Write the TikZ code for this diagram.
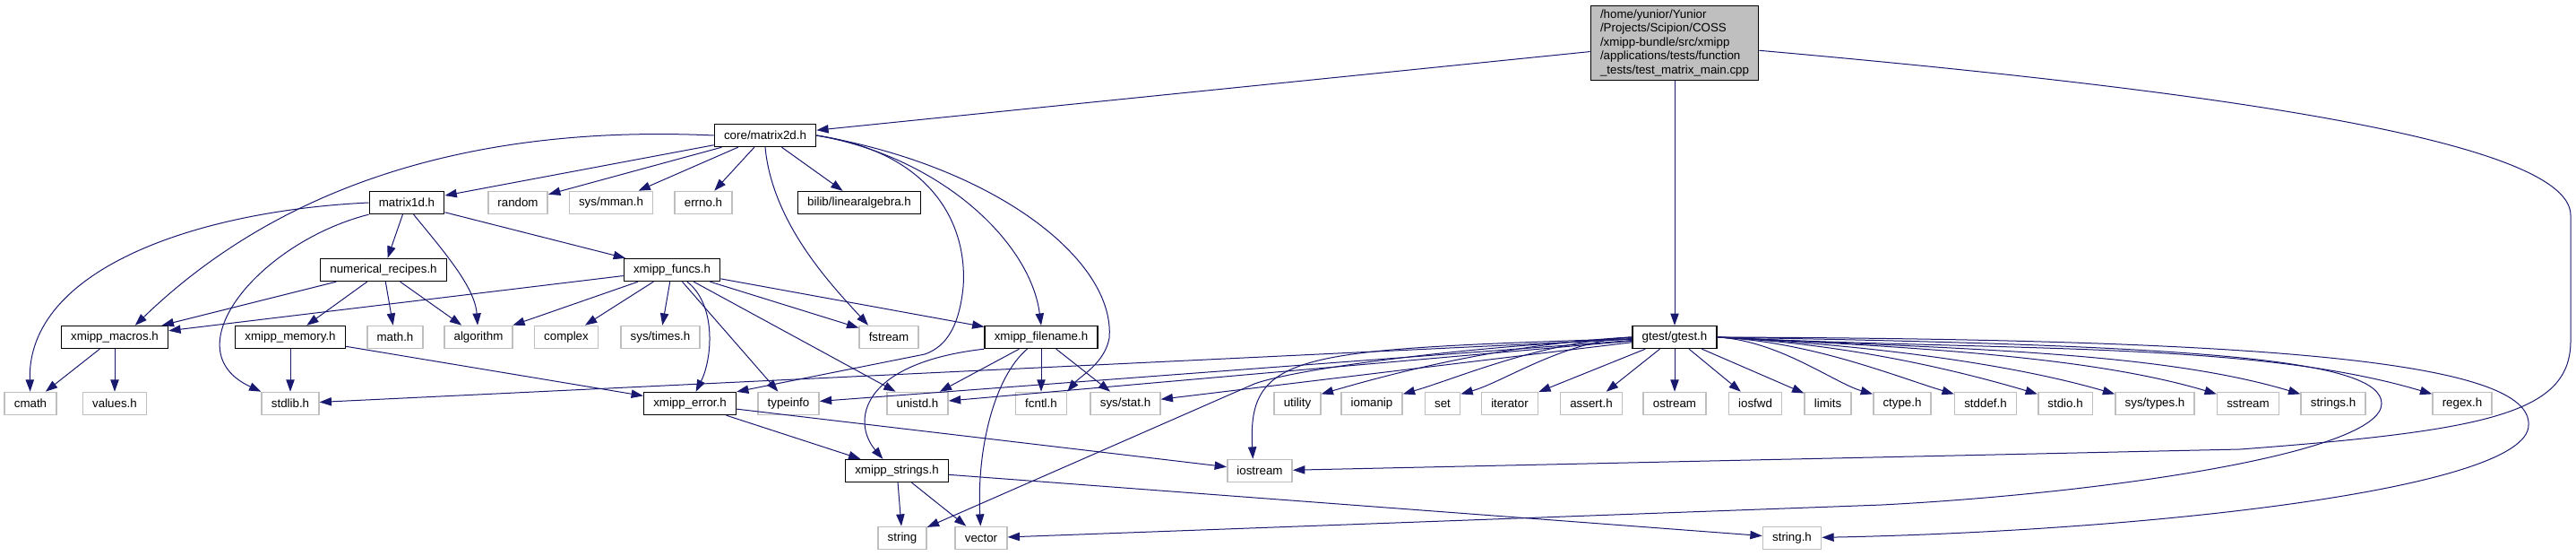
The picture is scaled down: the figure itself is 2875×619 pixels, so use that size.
\documentclass[tikz,border=0pt]{standalone}
\usepackage{fontspec}
\setmainfont{Liberation Sans}
\usetikzlibrary{arrows.meta}
\definecolor{cEdge}{RGB}{25,25,112}
\definecolor{cSys}{RGB}{191,191,191}
\definecolor{cRoot}{RGB}{191,191,191}

\begin{document}
\begin{tikzpicture}[
  x=0.75pt, y={(0pt,-0.75pt)},
  font=\fontsize{10}{11.6}\selectfont,
  box/.style  = {rectangle, fill=white, minimum height=18.75pt,
                 inner xsep=8pt, inner ysep=0pt},
  hdr/.style  = {box, draw=black, line width=1pt},
  ext/.style  = {box, draw=cSys, line width=1.2pt},
  root/.style = {box, draw=black, line width=1pt, fill=cRoot,
                 align=left, inner ysep=3.5pt},
  dep/.style  = {-{Triangle[length=10pt, width=7pt]}, draw=cEdge,
                 line width=0.75pt}
]
\useasboundingbox (0,0) rectangle (2875,619);

% ------------------------------------------------------------- i file --
\node[root] (main) at (1869,48) {/home/yunior/Yunior\\/Projects/Scipion/COSS\\/xmipp-bundle/src/xmipp\\/applications/tests/function\\\_tests/test\_matrix\_main.cpp};
\node[hdr] (mat2d) at (854,151) {core/matrix2d.h};

\node[hdr] (mat1d)  at (454,226) {matrix1d.h};
\node[ext] (random) at (578,226) {random};
\node[ext] (mman)   at (682,226) {sys/mman.h};
\node[ext] (errno)  at (785,226) {errno.h};
\node[hdr] (linalg) at (959,226) {bilib/linearalgebra.h};

\node[hdr] (numrec) at (428,301) {numerical\_recipes.h};
\node[hdr] (funcs)  at (750,301) {xmipp\_funcs.h};

\node[hdr] (macros)  at (128,376)  {xmipp\_macros.h};
\node[hdr] (memory)  at (324,376)  {xmipp\_memory.h};
\node[ext] (mathh)   at (441,376)  {math.h};
\node[ext] (algo)    at (534,376)  {algorithm};
\node[ext] (complex) at (632,376)  {complex};
\node[ext] (times)   at (737,376)  {sys/times.h};
\node[ext] (fstream) at (992,376)  {fstream};
\node[hdr] (fname)   at (1162,376) {xmipp\_filename.h};
\node[hdr] (gtest)   at (1869,376) {gtest/gtest.h};

\node[ext] (cmath)    at (34,450)   {cmath};
\node[ext] (values)   at (128,450)  {values.h};
\node[ext] (stdlib)   at (324,450)  {stdlib.h};
\node[hdr] (error)    at (770,450)  {xmipp\_error.h};
\node[ext] (typeinfo) at (880,450)  {typeinfo};
\node[ext] (unistd)   at (1024,450) {unistd.h};
\node[ext] (fcntl)    at (1162,450) {fcntl.h};
\node[ext] (sysstat)  at (1256,450) {sys/stat.h};
\node[ext] (utility)  at (1448,450) {utility};
\node[ext] (iomanip)  at (1531,450) {iomanip};
\node[ext] (set)      at (1610,450) {set};
\node[ext] (iterator) at (1685,450) {iterator};
\node[ext] (assert)   at (1776,450) {assert.h};
\node[ext] (ostream)  at (1869,450) {ostream};
\node[ext] (iosfwd)   at (1959,450) {iosfwd};
\node[ext] (limits)   at (2040,450) {limits};
\node[ext] (ctype)    at (2123,450) {ctype.h};
\node[ext] (stddef)   at (2216,450) {stddef.h};
\node[ext] (stdio)    at (2305,450) {stdio.h};
\node[ext] (systypes) at (2405,450) {sys/types.h};
\node[ext] (sstream)  at (2509,450) {sstream};
\node[ext] (strings)  at (2604,450) {strings.h};
\node[ext] (regex)    at (2748,450) {regex.h};

\node[hdr] (xstr)     at (1001,525) {xmipp\_strings.h};
\node[ext] (iostream) at (1406,525) {iostream};

\node[ext] (string)  at (1007,600) {string};
\node[ext] (vector)  at (1095,600) {vector};
\node[ext] (stringh) at (2000,600) {string.h};

% ------------------------------------------------ test_matrix_main.cpp --
\draw[dep] (main) -- (mat2d);
\draw[dep] (main) -- (gtest);
\coordinate (r1) at (2869,240);
\coordinate (r2) at (2869,380);
\coordinate (r3) at (2500,501);
\draw[dep] (main.-5) .. controls (2400,95) and (2869,150) .. (r1) -- (r2)
  .. controls (2869,460) and (2780,480) .. (r3) -- (iostream);

% ----------------------------------------------------- core/matrix2d.h --
\draw[dep] (mat2d) -- (mat1d);
\draw[dep] (mat2d) -- (random);
\draw[dep] (mat2d) -- (mman);
\draw[dep] (mat2d) -- (errno);
\draw[dep] (mat2d) -- (linalg);
\draw[dep] (mat2d.west) .. controls (560,140) and (330,190) .. (macros.30);
\draw[dep] (mat2d.south) .. controls (862,250) and (930,320) .. (fstream.150);
\coordinate (m1) at (1075,320);
\coordinate (m2) at (1032,395);
\draw[dep] (mat2d.east) .. controls (1040,170) and (1080,250) .. (m1)
  .. controls (1070,370) and (1052,388) .. (m2) -- (error.north east);
\draw[dep] (mat2d.east) .. controls (1050,175) and (1150,270) .. (fname.north);
\coordinate (m3) at (1238,377);
\draw[dep] (mat2d.east) .. controls (1110,185) and (1245,290) .. (m3)
  .. controls (1233,405) and (1205,420) .. (fcntl.north east);

% ---------------------------------------------------------- matrix1d.h --
\draw[dep] (mat1d.west) .. controls (220,235) and (30,300) .. (cmath);
\draw[dep] (mat1d.south west) .. controls (290,270) and (190,390) .. (stdlib.north west);
\draw[dep] (mat1d) -- (numrec);
\draw[dep] (mat1d.-60) .. controls (495,280) and (530,320) .. (algo);
\draw[dep] (mat1d) -- (funcs);

% ------------------------------------------------- numerical_recipes.h --
\draw[dep] (numrec) -- (macros);
\draw[dep] (numrec) -- (memory);
\draw[dep] (numrec) -- (mathh);
\draw[dep] (numrec) -- (algo);

% ------------------------------------------------------- xmipp_funcs.h --
\draw[dep] (funcs) -- (macros);
\draw[dep] (funcs) -- (algo);
\draw[dep] (funcs) -- (complex);
\draw[dep] (funcs) -- (times);
\draw[dep] (funcs) .. controls (800,340) and (795,400) .. (error);
\draw[dep] (funcs) -- (typeinfo);
\draw[dep] (funcs) -- (unistd);
\draw[dep] (funcs) -- (fstream);
\draw[dep] (funcs) -- (fname);

% ------------------------------------------------ macros, memory, error --
\draw[dep] (macros) -- (cmath);
\draw[dep] (macros) -- (values);
\draw[dep] (memory) -- (stdlib);
\draw[dep] (memory) -- (error);
\draw[dep] (error) -- (xstr);
\draw[dep] (error) -- (iostream);

% ---------------------------------------------------- xmipp_filename.h --
\draw[dep] (fname) -- (unistd);
\draw[dep] (fname) -- (fcntl);
\draw[dep] (fname) -- (sysstat);
\draw[dep] (fname.south west) .. controls (960,405) and (950,470) .. (xstr.140);
\draw[dep] (fname) .. controls (1110,420) and (1090,500) .. (vector);

% ----------------------------------------------------- xmipp_strings.h --
\draw[dep] (xstr) -- (string);
\draw[dep] (xstr) -- (vector);
\draw[dep] (xstr) -- (stringh);

% ------------------------------------------------------- gtest/gtest.h --
\draw[dep] (gtest) -- (stdlib);
\draw[dep] (gtest) -- (typeinfo);
\draw[dep] (gtest) -- (unistd);
\draw[dep] (gtest) -- (sysstat);
\coordinate (g0) at (1400,428);
\draw[dep] (gtest) .. controls (1650,385) and (1450,410) .. (g0) -- (string);
\draw[dep] (gtest) .. controls (1450,390) and (1392,392) .. (iostream.120);
\draw[dep] (gtest.west) .. controls (1683,383) and (1562,414) .. ([yshift=-2pt]utility.north east);
\draw[dep] (gtest.west) .. controls (1719,381) and (1629,421) .. ([yshift=-2pt]iomanip.north east);
\draw[dep] (gtest.west) .. controls (1745,380) and (1678,426) .. ([yshift=-2pt]set.north east);
\draw[dep] (gtest) -- (iterator);
\draw[dep] (gtest) -- (assert);
\draw[dep] (gtest) -- (ostream);
\draw[dep] (gtest) -- (iosfwd);
\draw[dep] (gtest) -- (limits);
\draw[dep] (gtest.east) .. controls (1986,380) and (2047,427) .. ([yshift=-2pt]ctype.north west);
\draw[dep] (gtest.east) .. controls (2022,381) and (2116,420) .. ([yshift=-2pt]stddef.north west);
\draw[dep] (gtest.east) .. controls (2060,383) and (2185,413) .. ([yshift=-2pt]stdio.north west);
\draw[dep] (gtest.east) .. controls (2094,385) and (2249,407) .. ([yshift=-2pt]systypes.north west);
\draw[dep] (gtest.east) .. controls (2140,387) and (2335,398) .. ([yshift=-2pt]sstream.north west);
\draw[dep] (gtest.east) .. controls (2177,389) and (2405,391) .. ([yshift=-2pt]strings.north west);
\draw[dep] (gtest.east) .. controls (2236,392) and (2515,380) .. ([yshift=-2pt]regex.north west);

% il giro largo a destra, sotto le foglie
\coordinate (g1) at (2658,450);
\coordinate (g2) at (2100,563);
\coordinate (g3) at (2822,474);
\draw[dep] (gtest.east) .. controls (2450,385) and (2658,400) .. (g1)
  .. controls (2658,505) and (2350,550) .. (g2) -- (vector);
\draw[dep] (gtest.east) .. controls (2550,378) and (2826,405) .. (g3)
  .. controls (2822,545) and (2400,592) .. (stringh);

\end{tikzpicture}
\end{document}
